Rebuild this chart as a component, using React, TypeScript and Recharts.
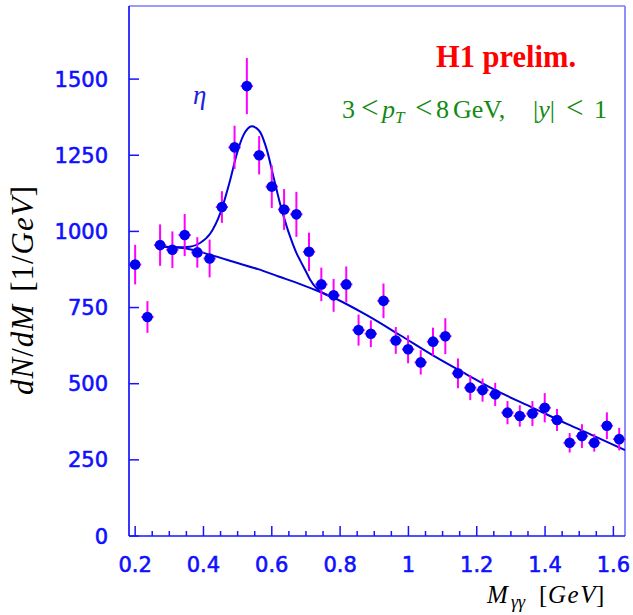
import React from "react";
import {
  ComposedChart,
  Scatter,
  Line,
  XAxis,
  YAxis,
  ErrorBar,
  ReferenceLine,
} from "recharts";

// Diphoton invariant mass spectrum: measured points
const massBins = [
  0.2, 0.236, 0.273, 0.309, 0.345, 0.382, 0.418, 0.454, 0.491, 0.527,
  0.563, 0.6, 0.636, 0.672, 0.709, 0.745, 0.781, 0.818, 0.854, 0.89,
  0.927, 0.963, 0.999, 1.036, 1.072, 1.108, 1.145, 1.181, 1.217, 1.254,
  1.29, 1.326, 1.363, 1.399, 1.435, 1.472, 1.508, 1.544, 1.581, 1.617,
];
const dNdM = [
  891, 719, 955, 940, 988, 931, 911, 1080, 1276, 1477,
  1250, 1147, 1072, 1056, 933, 826, 790, 826, 676, 664,
  772, 642, 613, 570, 638, 656, 534, 487, 479, 465,
  405, 394, 402, 421, 381, 306, 328, 306, 362, 318,
];
const statErr = [
  65, 52, 68, 60, 69, 50, 62, 52, 71, 92,
  63, 70, 67, 74, 63, 55, 54, 59, 51, 44,
  57, 44, 46, 40, 46, 59, 49, 41, 38, 38,
  38, 35, 41, 48, 36, 32, 39, 29, 44, 37,
];
const halfBinWidth = 0.018;

// Fit: eta peak on top of the background
const fitMass = [
  0.285, 0.32, 0.36, 0.39, 0.42, 0.449, 0.478, 0.498, 0.517, 0.53,
  0.542, 0.555, 0.566, 0.586, 0.605, 0.624, 0.644, 0.654, 0.673, 0.683,
  0.703, 0.712, 0.732, 0.76, 0.78,
];
const fitTotal = [
  950, 948, 950, 962, 993, 1059, 1168, 1256, 1316, 1338,
  1345, 1339, 1326, 1266, 1179, 1092, 1015, 982, 927, 905,
  862, 842, 812, 792, 783,
];

// Fit: background only
const bgMass = [
  0.285, 0.35, 0.42, 0.5, 0.56, 0.62, 0.683, 0.742, 0.78, 0.878,
  0.976, 1.073, 1.171, 1.249, 1.366, 1.464, 1.544, 1.634,
];
const bgValues = [
  950, 944, 923, 896, 876, 852, 827, 801, 783, 725,
  659, 592, 530, 482, 420, 368, 328, 282,
];

// Axis ticks
const yTicks = [0, 250, 500, 750, 1000, 1250, 1500];
const xTicks = [
  0.2, 0.25, 0.3, 0.35, 0.4, 0.45, 0.5, 0.55, 0.6, 0.65, 0.7, 0.75, 0.8,
  0.85, 0.9, 0.95, 1.0, 1.05, 1.1, 1.15, 1.2, 1.25, 1.3, 1.35, 1.4, 1.45,
  1.5, 1.55, 1.6,
];
const xLabels: Record<string, string> = {
  "0.2": "0.2", "0.4": "0.4", "0.6": "0.6", "0.8": "0.8",
  "1": "1", "1.2": "1.2", "1.4": "1.4", "1.6": "1.6",
};

const X_MIN = 0.182;
const X_MAX = 1.634;
const Y_MAX = 1740;

const points = massBins.map((m, i) => ({
  m,
  v: dNdM[i],
  err: statErr[i],
  xerr: halfBinWidth,
}));
const totalCurve = fitMass.map((m, i) => ({ m, v: fitTotal[i] }));
const bgCurve = bgMass.map((m, i) => ({ m, v: bgValues[i] }));

const AXIS_BLUE = "#1414ff";
const FRAME_BLUE = "#7a7aff";
const LABEL_BLUE = "#1010ff";
const DOT_BLUE = "#0000f0";
const CURVE_BLUE = "#0000d8";
const ERR_MAGENTA = "#ff00ff";
const TICK_FONT = "'DejaVu Sans', Verdana, sans-serif";
const SERIF = "'Liberation Serif', 'Times New Roman', serif";

const Y_TICK_GAP = 21;
const X_TICK_GAP = 21;

const tickTextStyle = {
  fill: LABEL_BLUE,
  stroke: LABEL_BLUE,
  strokeWidth: 0.6,
  fontFamily: TICK_FONT,
  fontSize: 21,
};

const YTick = (props: any) => {
  const { x, y, payload } = props;
  const axisX = x + Y_TICK_GAP;
  return (
    <g>
      <line x1={axisX} x2={axisX + 10} y1={y} y2={y} stroke={AXIS_BLUE} strokeWidth={1.5} />
      <text x={x} y={y} dy="0.36em" textAnchor="end" style={tickTextStyle}>
        {payload.value}
      </text>
    </g>
  );
};

const XTick = (props: any) => {
  const { x, y, payload } = props;
  const axisY = y - X_TICK_GAP;
  const key = String(Math.round(payload.value * 100) / 100);
  const label = xLabels[key];
  const len = label ? 10 : 5;
  return (
    <g>
      <line x1={x} x2={x} y1={axisY} y2={axisY - len} stroke={AXIS_BLUE} strokeWidth={1.5} />
      {label && (
        <text x={x} y={y} dy="0.71em" textAnchor="middle" style={tickTextStyle}>
          {label}
        </text>
      )}
    </g>
  );
};

const Dot = (props: any) => {
  const { cx, cy } = props;
  return <circle cx={cx} cy={cy} r={5.3} fill={DOT_BLUE} />;
};

export default function App() {
  return (
    <div
      style={{
        position: "absolute",
        left: 0,
        top: 0,
        width: 633,
        height: 615,
        background: "#ffffff",
      }}
    >
      <ComposedChart
        width={633}
        height={615}
        margin={{ top: 6, right: 8, bottom: 0, left: 0 }}
      >
        <XAxis
          type="number"
          dataKey="m"
          domain={[X_MIN, X_MAX]}
          ticks={xTicks}
          interval={0}
          allowDataOverflow
          height={79}
          tickSize={0}
          tickMargin={X_TICK_GAP}
          tick={<XTick />}
          tickLine={false}
          axisLine={{ stroke: AXIS_BLUE, strokeWidth: 1.7 }}
        />
        <YAxis
          type="number"
          dataKey="v"
          domain={[0, Y_MAX]}
          ticks={yTicks}
          interval={0}
          allowDataOverflow
          width={129}
          tickSize={0}
          tickMargin={Y_TICK_GAP}
          tick={<YTick />}
          tickLine={false}
          axisLine={{ stroke: AXIS_BLUE, strokeWidth: 1.7 }}
        />
        <ReferenceLine y={Y_MAX} stroke={FRAME_BLUE} strokeWidth={1.7} />
        <ReferenceLine x={X_MAX} stroke={FRAME_BLUE} strokeWidth={1.7} />
        <Line
          data={bgCurve}
          dataKey="v"
          type="monotone"
          stroke={CURVE_BLUE}
          strokeWidth={2}
          dot={false}
          activeDot={false}
          isAnimationActive={false}
        />
        <Line
          data={totalCurve}
          dataKey="v"
          type="monotone"
          stroke={CURVE_BLUE}
          strokeWidth={2}
          dot={false}
          activeDot={false}
          isAnimationActive={false}
        />
        <Scatter
          data={points}
          dataKey="v"
          shape={<Dot />}
          isAnimationActive={false}
        >
          <ErrorBar dataKey="err" direction="y" width={0} stroke={ERR_MAGENTA} strokeWidth={2} />
          <ErrorBar dataKey="xerr" direction="x" width={0} stroke={ERR_MAGENTA} strokeWidth={2} />
        </Scatter>
      </ComposedChart>

      <svg
        width={633}
        height={615}
        style={{ position: "absolute", left: 0, top: 0, pointerEvents: "none" }}
      >
        {/* y-axis title */}
        <text
          transform="translate(33 290) rotate(-90)"
          textAnchor="middle"
          fontFamily={SERIF}
          fontSize={31}
          letterSpacing={1}
          fill="#000"
        >
          <tspan fontStyle="italic">dN</tspan>
          <tspan>/</tspan>
          <tspan fontStyle="italic">dM</tspan>
          <tspan dx={12}>[1/</tspan>
          <tspan fontStyle="italic">GeV</tspan>
          <tspan>]</tspan>
        </text>

        {/* x-axis title */}
        <text y={603} fontFamily={SERIF} fontSize={25} fill="#000">
          <tspan x={487} fontStyle="italic" letterSpacing={1}>M</tspan>
          <tspan x={511} fontStyle="italic" fontSize={18} dy={5}>γγ</tspan>
          <tspan x={539} dy={-5}>[</tspan>
          <tspan x={548} fontStyle="italic" letterSpacing={1.5}>GeV</tspan>
          <tspan x={596}>]</tspan>
        </text>

        <text x={436} y={67} fontFamily={SERIF} fontSize={30.5} fontWeight="bold" fill="#ff0000">
          H1 prelim.
        </text>

        <text y={118} fontFamily={SERIF} fontSize={26} fill="#128a12">
          <tspan x={342}>3</tspan>
          <tspan x={361} fontSize={31}>&lt;</tspan>
          <tspan x={382} fontStyle="italic">p</tspan>
          <tspan x={395} fontStyle="italic" fontSize={17} dy={5}>T</tspan>
          <tspan x={415} dy={-5} fontSize={31}>&lt;</tspan>
          <tspan x={436}>8</tspan>
          <tspan x={453}>GeV,</tspan>
          <tspan x={533}>|</tspan>
          <tspan fontStyle="italic">y</tspan>
          <tspan>|</tspan>
          <tspan x={566} fontSize={31}>&lt;</tspan>
          <tspan x={594}>1</tspan>
        </text>

        <text x={193} y={104} fontFamily={SERIF} fontSize={27} fontStyle="italic" fill="#2020e0">
          η
        </text>
      </svg>
    </div>
  );
}
